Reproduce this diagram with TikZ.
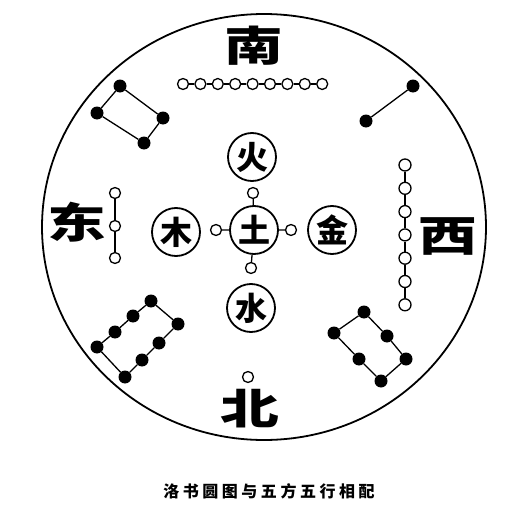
\documentclass[tikz,border=0pt]{standalone}
\usepackage{fontspec}
\usepackage{graphicx}
\usepackage{tikz}
\newfontfamily\cjk{Noto Sans CJK SC}
\newfontfamily\capfont[LetterSpace=22]{Noto Sans CJK SC}

\begin{document}
\begin{tikzpicture}[x=1pt,y=-1pt,
  hollow/.style={circle,draw,line width=1.3pt,fill=white,minimum size=11pt,inner sep=0pt},
  blackdot/.style={circle,fill=black,minimum size=13pt,inner sep=0pt},
  elem/.style={circle,draw,line width=1.8pt,minimum size=48pt,inner sep=0pt,font=\cjk\bfseries\fontsize{32}{32}\selectfont},
  fang/.style={inner sep=0pt,font=\cjk\bfseries\fontsize{42}{42}\selectfont},
  link/.style={line width=1.3pt}]
\useasboundingbox (0,0) rectangle (523,514);
\draw[line width=1.8pt] (264,227) ellipse [x radius=222pt,y radius=213pt];
\node[fang] (nan) at (254,46) {\scalebox{1.4}[1]{南}};
\node[fang] (bei) at (250,409) {\scalebox{1.4}[1]{北}};
\node[fang] (dong) at (77,222) {\scalebox{1.4}[1]{东}};
\node[fang] (xi) at (448,236) {\scalebox{1.4}[1]{西}};
\node[elem] (tu) at (254,230) {土};
\node[elem] (huo) at (252,157) {火};
\node[elem] (shui) at (251,308) {水};
\node[elem] (mu) at (176,232) {木};
\node[elem] (jin) at (332,230) {金};
\node[hollow] (tuN) at (253,193) {};
\node[hollow] (tuS) at (251,268) {};
\node[hollow] (tuW) at (216,230) {};
\node[hollow] (tuE) at (291,230) {};
\draw[link] (tu) -- (tuN) (tu) -- (tuS) (tu) -- (tuW) (tu) -- (tuE);
\node[hollow] (bo) at (248,377) {};
\foreach \i in {1,...,9}
  \node[hollow] (s\i) at ({183+17.4*(\i-1)},84) {};
\foreach \i [count=\j from 2] in {1,...,8}
  \draw[link] (s\i) -- (s\j);
\foreach \y [count=\i] in {193,226,258}
  \node[hollow] (e\i) at (115,\y) {};
\draw[link] (e1) -- (e2) -- (e3);
\foreach \i in {1,...,7}
  \node[hollow,minimum size=12pt] (w\i) at (405,{165+23.3*(\i-1)}) {};
\foreach \i [count=\j from 2] in {1,...,6}
  \draw[link] (w\i) -- (w\j);
\node[blackdot] (a1) at (120,86) {};
\node[blackdot] (a2) at (163,118) {};
\node[blackdot] (a3) at (144,143) {};
\node[blackdot] (a4) at (97,113) {};
\draw[link] (a1) -- (a2) -- (a3) -- (a4) -- (a1);
\node[blackdot] (b1) at (413,86) {};
\node[blackdot] (b2) at (366,121) {};
\draw[link] (b1) -- (b2);
\node[blackdot] (c1) at (151,301) {};
\node[blackdot] (c2) at (133,316) {};
\node[blackdot] (c3) at (115,332) {};
\node[blackdot] (c4) at (97,347) {};
\node[blackdot] (c5) at (178,324) {};
\node[blackdot] (c6) at (159,343) {};
\node[blackdot] (c7) at (142,360) {};
\node[blackdot] (c8) at (125,377) {};
\draw[link] (c1) -- (c2) -- (c3) -- (c4) -- (c8) -- (c7) -- (c6) -- (c5) -- (c1);
\node[blackdot] (d1) at (364,312) {};
\node[blackdot] (d2) at (387,336) {};
\node[blackdot] (d3) at (406,359) {};
\node[blackdot] (d4) at (381,381) {};
\node[blackdot] (d5) at (359,359) {};
\node[blackdot] (d6) at (334,333) {};
\draw[link] (d1) -- (d2) -- (d3) -- (d4) -- (d5) -- (d6) -- (d1);
\node[font=\capfont\bfseries\fontsize{16}{16}\selectfont] (cap) at (269,491) {洛书圆图与五方五行相配};
\end{tikzpicture}
\end{document}
